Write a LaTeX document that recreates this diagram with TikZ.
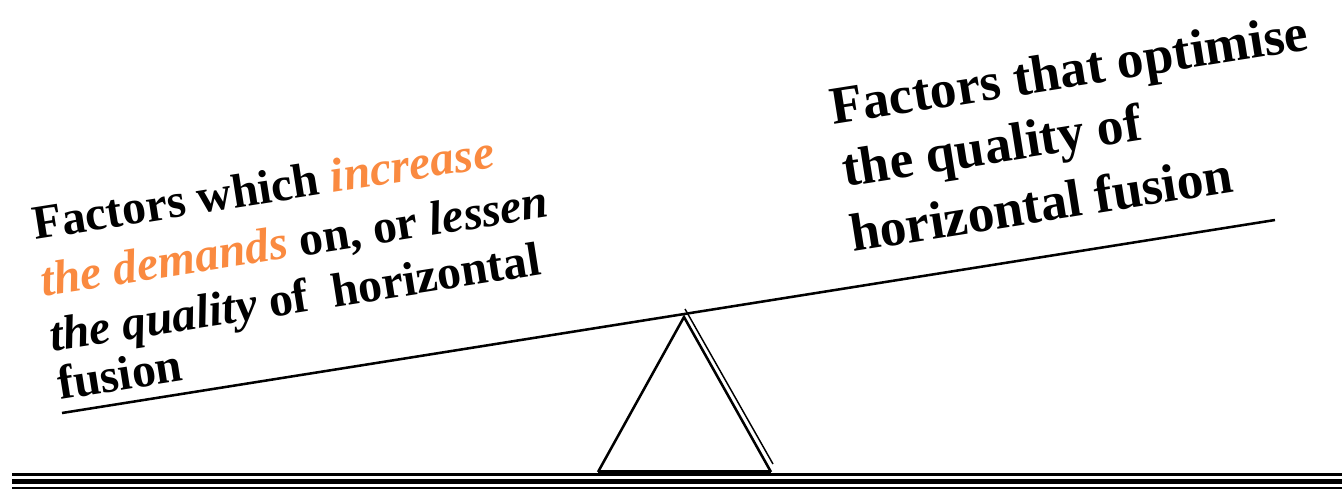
\documentclass[tikz,border=0pt]{standalone}
\usepackage{fontspec}
\setmainfont{Liberation Serif}
\definecolor{accent}{RGB}{250,138,64}
\definecolor{shade}{RGB}{215,215,215}
\begin{document}
\begin{tikzpicture}[x=0.75pt,y=-0.75pt,
  lbl/.style={anchor=base west,inner sep=0pt,rotate=9,font=\fontsize{36}{42}\selectfont\bfseries},
  rlbl/.style={lbl,font=\fontsize{40}{46}\selectfont\bfseries},
  beam/.style={line width=1.9pt},
  edge/.style={line width=1.9pt,line join=miter},
  ground/.style={line width=#1}]
\useasboundingbox (0,0) rectangle (1342,489);
% ground lines
\coordinate (g1a) at (12,474.5); \coordinate (g1b) at (1342,474.5);
\coordinate (g2a) at (12,481.5); \coordinate (g2b) at (1342,481.5);
\coordinate (g3a) at (12,488.3); \coordinate (g3b) at (1342,488.3);
\draw[ground=1.7pt] (g1a) -- (g1b);
\draw[ground=3.8pt] (g2a) -- (g2b);
\draw[ground=1.5pt] (g3a) -- (g3b);
% fulcrum
\coordinate (apex) at (684,317);
\coordinate (bl) at (598,472);
\coordinate (br) at (771,472);
\coordinate (sh1) at (685,309);
\coordinate (sh2) at (773,464);
\draw[shade,line width=1.1pt] (sh1) -- (sh2);
\draw[edge] (bl) -- (apex) -- (br);
\draw[line width=3pt] (bl) -- (br);
% beam
\coordinate (bL) at (62,413);
\coordinate (bR) at (1275,220);
\draw[beam] (bL) -- (bR);
% left text
\node[lbl] (l1) at (35,240) {Factors which \textcolor{accent}{\itshape increase}};
\node[lbl] (l2) at (43,297) {\textcolor{accent}{\itshape the demands} on, or \textit{lessen}};
\node[lbl] (l3) at (52,352) {\textit{the quality} of\ \ horizontal};
\node[lbl] (l4) at (60,400) {fusion};
% right text
\node[rlbl] (r1) at (833,125) {Factors that optimise};
\node[rlbl] (r2) at (845,187) {the quality of};
\node[rlbl] (r3) at (853,252) {horizontal fusion};
\end{tikzpicture}
\end{document}
